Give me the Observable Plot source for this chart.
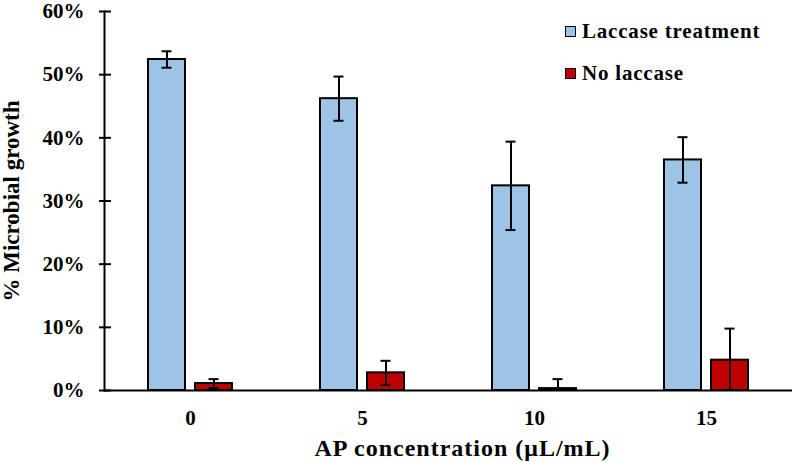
<!DOCTYPE html>
<html><head><meta charset="utf-8">
<script src="https://cdn.jsdelivr.net/npm/d3@7"></script>
<script src="https://cdn.jsdelivr.net/npm/@observablehq/plot@0.6"></script>
<style>
body{margin:0;background:#fff;}
#wrap{position:relative;width:794px;height:462px;font-family:"Liberation Serif","Times New Roman",serif;font-weight:bold;color:#000;}
#legend{position:absolute;left:565px;top:19px;font-size:21px;line-height:24px;}
.item{display:flex;align-items:center;height:24px;margin-bottom:18px;letter-spacing:0.8px;}
.sw{width:9px;height:9px;border:1.5px solid #000;margin-right:6px;}
</style></head><body><div id="wrap"></div>
<script>
const concentrations = ["0", "5", "10", "15"];
const seriesNames = ["Laccase treatment", "No laccase"];
const laccaseValues = [52.4, 46.2, 32.4, 36.5];
const laccaseErrors = [1.3, 3.5, 7.0, 3.6];
const noLaccaseValues = [1.1, 2.8, 0.3, 4.8];
const noLaccaseErrors = [0.7, 1.9, 1.5, 5.0];
const yTicks = [0, 10, 20, 30, 40, 50, 60];
const colors = ["#9DC3E6", "#C00000"];
const yTitle = "% Microbial growth";
const xTitle = "AP concentration (μL/mL)";

const data = [];
concentrations.forEach((c, i) => {
  data.push({conc: c, series: seriesNames[0], value: laccaseValues[i], err: laccaseErrors[i]});
  data.push({conc: c, series: seriesNames[1], value: noLaccaseValues[i], err: noLaccaseErrors[i]});
});

const chart = Plot.plot({
  width: 794, height: 462,
  marginLeft: 103, marginRight: 2, marginTop: 11, marginBottom: 72,
  style: {fontFamily: '"Liberation Serif","Times New Roman",serif', fontWeight: "bold", fontSize: "21px", color: "#000", background: "#fff", overflow: "visible"},
  fx: {domain: concentrations, padding: 0},
  x: {domain: seriesNames, paddingInner: 0.21, paddingOuter: 0.9, axis: null},
  y: {domain: [0, 60]},
  color: {domain: seriesNames, range: colors},
  marks: [
    Plot.barY(data, {fx: "conc", x: "series", y: "value", fill: "series", stroke: "#000", strokeWidth: 2}),
    Plot.ruleX(data, {fx: "conc", x: "series", y1: d => d.value - d.err, y2: d => d.value + d.err, stroke: "#000", strokeWidth: 2, clip: true}),
    Plot.tickY(data, {fx: "conc", x: "series", y: d => d.value + d.err, stroke: "#000", strokeWidth: 2, insetLeft: 13.5, insetRight: 13.5}),
    Plot.tickY(data, {fx: "conc", x: "series", y: d => d.value - d.err, stroke: "#000", strokeWidth: 2, insetLeft: 13.5, insetRight: 13.5, clip: true}),
    Plot.ruleY([0], {stroke: "#000", strokeWidth: 2}),
    Plot.frame({anchor: "left", facetAnchor: "left", stroke: "#000", strokeWidth: 2}),
    Plot.axisY({ticks: yTicks, tickSize: 5, tickPadding: 15, strokeWidth: 2, tickFormat: d => d + "%", label: null}),
    Plot.axisY({ticks: yTicks, tickSize: -7, strokeWidth: 2, tickFormat: () => "", label: yTitle, labelArrow: "none", labelAnchor: "center", labelOffset: 102, fontSize: "23px"}),
    Plot.axisFx({anchor: "bottom", tickSize: 0, tickPadding: 20, label: null}),
    Plot.axisFx({anchor: "bottom", tickSize: 0, tickFormat: () => "", label: xTitle, labelArrow: "none", labelAnchor: "center", labelOffset: 65, fontSize: "24px"})
  ]
});

d3.select(chart).selectAll("text").filter(function() { return this.textContent === xTitle; })
  .style("letter-spacing", "1px")
  .each(function() {
    const g = document.createElementNS("http://www.w3.org/2000/svg", "g");
    g.setAttribute("transform", "translate(14,0)");
    this.parentNode.insertBefore(g, this);
    g.appendChild(this);
  });

const wrap = document.getElementById("wrap");
wrap.appendChild(chart);
const legend = document.createElement("div");
legend.id = "legend";
seriesNames.forEach((name, i) => {
  const item = document.createElement("div");
  item.className = "item";
  const sw = document.createElement("span");
  sw.className = "sw";
  sw.style.background = colors[i];
  const label = document.createElement("span");
  label.textContent = name;
  item.appendChild(sw);
  item.appendChild(label);
  legend.appendChild(item);
});
wrap.appendChild(legend);
</script>
</body></html>
